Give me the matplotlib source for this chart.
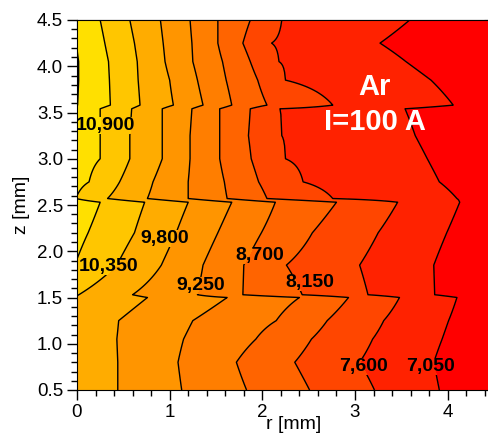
import numpy as np
import matplotlib
matplotlib.use("Agg")
import matplotlib.pyplot as plt
from matplotlib.path import Path
from matplotlib.ticker import MultipleLocator

plt.rcParams['font.family'] = ['Liberation Sans', 'DejaVu Sans']

# 1. Data
# temperature levels of the isolines [K]
levels = [7050, 7600, 8150, 8700, 9250, 9800, 10350, 10900, 11450]

# z rows [mm] where the isoline positions were read
z_rows = [0.5, 0.8, 1.05, 1.25, 1.5, 1.53, 1.85, 2.2, 2.53,
          2.57, 2.75, 3.0, 3.25, 3.54, 3.58, 3.85, 4.05, 4.25, 4.5]

# temperature on the axis (r = 0) and at the outer edge (r = 4.5 mm)
T_axis = [10150, 10150, 10140, 10160, 10320, 10370, 10870, 11030, 11190,
          10880, 11000, 11100, 11150, 11200, 11460, 11480, 11480, 11435, 11350]
T_edge = [6590, 6540, 6610, 6670, 6740, 6550, 6540, 6650, 6780,
          6900, 6850, 6790, 6750, 6720, 6870, 6800, 6720, 6600, 6700]

# radius [mm] where each isoline crosses each row (nan = no crossing)
nan = np.nan
r_10900 = [nan, nan, nan, nan, nan, nan, nan, 0.12, 0.25,
           nan, 0.13, 0.25, 0.25, 0.25, 0.36, 0.35, 0.34, 0.30, 0.25]
r_10350 = [nan, nan, nan, nan, nan, 0.02, 0.43, 0.62, 0.73,
           0.33, 0.46, 0.57, 0.57, 0.59, 0.68, 0.66, 0.65, 0.62, 0.57]
r_9800 = [0.44, 0.44, 0.43, 0.45, 0.76, 0.60, 0.91, 1.07, 1.20,
          0.76, 0.82, 0.92, 0.92, 0.92, 1.04, 1.00, 0.95, 0.93, 0.90]
r_9250 = [1.13, 1.09, 1.15, 1.25, 1.62, 1.30, 1.36, 1.52, 1.67,
          1.20, 1.20, 1.22, 1.22, 1.24, 1.36, 1.30, 1.25, 1.24, 1.22]
r_8700 = [1.83, 1.72, 1.93, 2.15, 2.40, 1.79, 1.80, 1.99, 2.14,
          1.62, 1.59, 1.54, 1.54, 1.54, 1.67, 1.61, 1.57, 1.52, 1.52]
r_8150 = [2.51, 2.35, 2.53, 2.70, 2.93, 2.43, 2.26, 2.54, 2.80,
          2.05, 1.96, 1.88, 1.85, 1.87, 2.05, 1.95, 1.87, 1.79, 1.87]
r_7600 = [3.21, 3.05, 3.19, 3.31, 3.48, 3.14, 3.05, 3.25, 3.46,
          2.76, 2.44, 2.25, 2.21, 2.19, 2.76, 2.25, 2.18, 2.10, 2.21]
r_7050 = [3.91, 3.85, 3.94, 4.01, 4.10, 3.86, 3.85, 3.99, 4.13,
          4.10, 3.91, 3.78, 3.65, 3.54, 4.06, 3.82, 3.55, 3.27, 3.59]

# labelled isolines and where their labels sit
label_values = [10900, 10350, 9800, 9250, 8700, 8150, 7600, 7050]
label_r = [0.31, 0.34, 0.95, 1.33, 1.97, 2.51, 3.09, 3.82]
label_z = [3.36, 1.835, 2.14, 1.63, 1.95, 1.66, 0.75, 0.75]

# 2. Build the temperature table for contourf
crossings = {10900: r_10900, 10350: r_10350, 9800: r_9800, 9250: r_9250,
             8700: r_8700, 8150: r_8150, 7600: r_7600, 7050: r_7050}
r_fine = np.linspace(0, 4.5, 451)
T = []
for i in range(len(z_rows)):
    rp = [0.0]
    tp = [T_axis[i]]
    for lev in [10900, 10350, 9800, 9250, 8700, 8150, 7600, 7050]:
        rc = crossings[lev][i]
        if not np.isnan(rc):
            rp.append(rc)
            tp.append(lev)
    rp.append(4.5)
    tp.append(T_edge[i])
    T.append(np.interp(r_fine, rp, tp))
T = np.array(T)

# 3. Figure
fig = plt.figure(figsize=(4.88, 4.37), dpi=100)
ax = fig.add_axes([77 / 488, 1 - 390 / 437, 417 / 488, 370 / 437])

fill_levels = [5000] + levels + [13000]
band_colors = ['#FF0000', '#FF2200', '#FF4600', '#FF6400', '#FF7E00',
               '#FF9500', '#FFAC00', '#FFC600', '#FFE000', '#FFEE00']
ax.contourf(r_fine, z_rows, T, levels=fill_levels, colors=band_colors)
lines = ax.contour(r_fine, z_rows, T, levels=levels, colors='black', linewidths=1.0)

# contour labels, horizontal like the original
texts = []
for v, r, z in zip(label_values, label_r, label_z):
    t = ax.text(r, z, f"{v:,}", ha='center', va='center', fontsize=14,
                fontweight='bold', color='black', zorder=5)
    texts.append(t)

ax.text(3.21, 3.69, 'Ar', ha='center', va='baseline', fontsize=21,
        fontweight='bold', color='white', zorder=5)
ax.text(3.21, 3.31, 'I=100 A', ha='center', va='baseline', fontsize=21,
        fontweight='bold', color='white', zorder=5)

# 4. Axes, ticks and labels
ax.set_xlim(0, 4.5)
ax.set_ylim(0.5, 4.5)
ax.xaxis.set_major_locator(MultipleLocator(1))
ax.xaxis.set_minor_locator(MultipleLocator(0.2))
ax.yaxis.set_major_locator(MultipleLocator(0.5))
ax.yaxis.set_minor_locator(MultipleLocator(0.1))
ax.tick_params(which='both', direction='out', labelsize=13.5, width=1)
ax.tick_params(which='major', length=7, pad=3)
ax.tick_params(which='minor', length=4)
ax.yaxis.set_major_formatter(matplotlib.ticker.FormatStrFormatter('%.1f'))

top = ax.secondary_xaxis('top')
top.xaxis.set_major_locator(MultipleLocator(1))
top.xaxis.set_minor_locator(MultipleLocator(0.2))
top.tick_params(which='both', direction='in', labeltop=False)
top.tick_params(which='major', length=7)
top.tick_params(which='minor', length=4)
right = ax.secondary_yaxis('right')
right.yaxis.set_major_locator(MultipleLocator(0.5))
right.yaxis.set_minor_locator(MultipleLocator(0.1))
right.tick_params(which='both', direction='in', labelright=False)
right.tick_params(which='major', length=7)
right.tick_params(which='minor', length=4)

ax.set_xlabel('r [mm]', fontsize=14)
ax.set_ylabel('z [mm]', fontsize=14)
ax.xaxis.set_label_coords(0.52, -0.07)
ax.yaxis.set_label_coords(-0.113, 0.5)

# 5. Break the isolines under the labels
fig.canvas.draw()
inv = ax.transData.inverted()
verts = [(-1, -1), (6, -1), (6, 6), (-1, 6), (-1, -1)]
codes = [Path.MOVETO, Path.LINETO, Path.LINETO, Path.LINETO, Path.CLOSEPOLY]
for t in texts:
    bb = t.get_window_extent().transformed(inv)
    verts += [(bb.x0, bb.y0), (bb.x0, bb.y1), (bb.x1, bb.y1), (bb.x1, bb.y0), (bb.x0, bb.y0)]
    codes += [Path.MOVETO, Path.LINETO, Path.LINETO, Path.LINETO, Path.CLOSEPOLY]
lines.set_clip_path(Path(verts, codes), ax.transData)

# 6. Save
fig.savefig('out.png', dpi=100)
print("saved out.png")
